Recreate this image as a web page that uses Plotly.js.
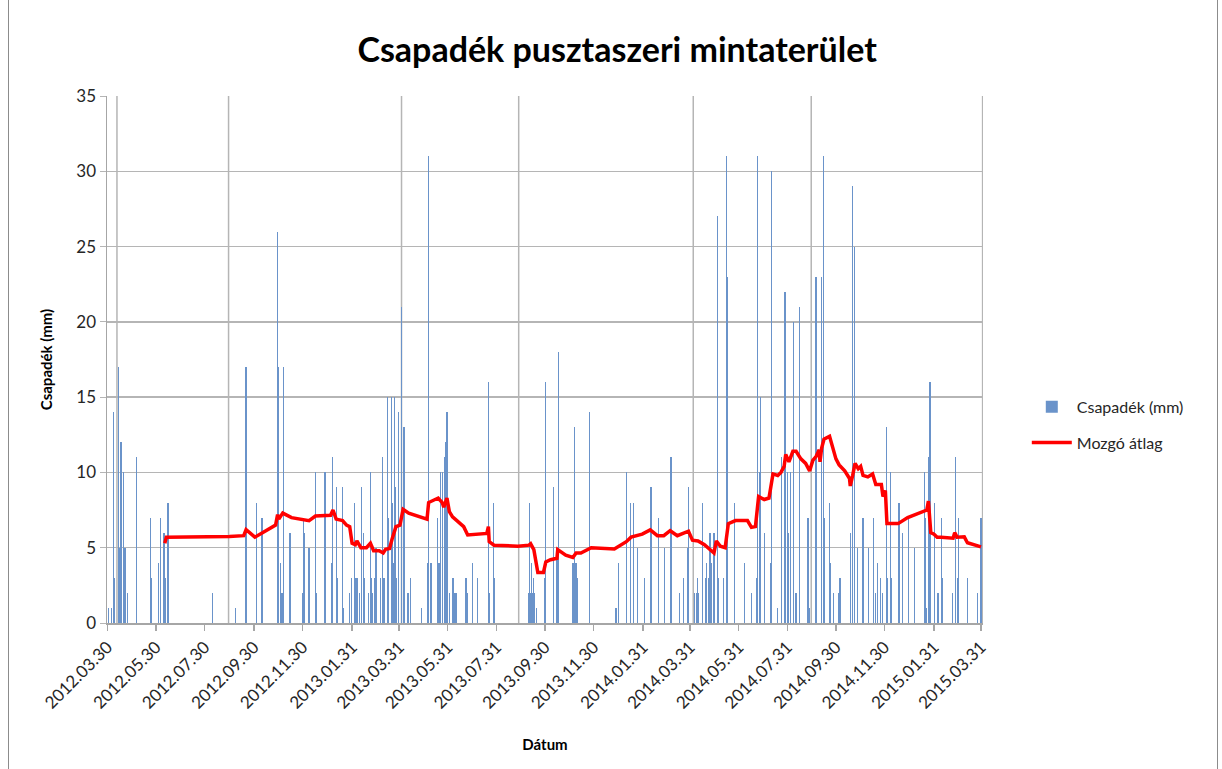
<!DOCTYPE html>
<html><head><meta charset="utf-8">
<script src="https://cdn.plot.ly/plotly-3.0.1.min.js"></script>
<style>
html,body{margin:0;padding:0;background:#fff;}
#chart{width:1222px;height:769px;position:absolute;left:0;top:0;}
#frame{position:absolute;left:8px;top:-2px;width:1210px;height:780px;border:1px solid #8c8c8c;box-sizing:border-box;pointer-events:none;}
</style>
</head><body>
<div id="chart"></div><div id="frame"></div>
<script>
// Day offsets counted from the start date (2012-03-30)
const startDate = '2012-03-30';
const rainDay = [1,5,8,9,14,15,17,18,20,21,22,25,36,54,55,64,67,71,73,76,132,161,174,175,187,194,213,214,217,219,
221,229,245,246,247,253,261,262,273,281,282,287,288,295,296,
304,306,310,312,314,316,319,321,323,328,330,331,333,335,337,343,345,347,351,353,356,357,359,360,361,363,365,369,372,377,380,
394,402,403,405,407,414,416,418,420,423,424,426,427,429,433,434,436,438,450,452,458,464,478,479,484,485,486,
529,530,531,532,533,534,535,536,538,549,550,560,564,566,583,584,585,586,588,590,605,638,641,651,656,660,665,674,682,691,699,707,718,723,728,729,
737,739,740,742,747,750,752,754,756,758,761,765,767,773,777,778,787,799,808,815,816,818,819,824,832,833,841,846,850,851,853,854,857,861,864,868,
879,881,889,890,896,898,899,900,906,907,911,917,919,932,935,937,941,948,955,961,964,966,970,972,977,978,982,984,993,997,1005,1013,1025,1026,1028,1030,1032,1033,1038,1042,1046,1048,1060,1064,1066,1068,1079,1092,1096];
const rainMm = [1,1,14,3,17,5,12,2,10,1,5,2,11,7,3,4,7,6,3,8,2,1,17,12,8,7,26,17,4,2,
17,6,2,7,6,5,10,2,10,4,11,9,3,9,1,
2,3,8,3,3,2,9,6,3,2,10,3,2,3,5,3,11,3,15,7,15,8,4,15,9,3,14,21,13,2,3,
1,4,31,4,4,7,4,10,10,11,12,14,1,2,3,3,2,2,3,2,4,3,16,2,8,2,3,
2,8,2,4,2,2,3,2,1,3,16,9,5,18,1,4,2,13,4,3,14,1,4,10,8,8,5,3,9,7,5,11,2,3,5,9,
2,2,3,2,8,3,4,3,6,4,6,27,3,3,31,23,8,4,2,3,31,10,15,6,4,30,1,11,22,16,10,6,10,20,2,21,
7,1,23,2,23,31,7,4,8,4,2,2,3,6,29,25,5,7,5,7,2,4,3,2,13,3,10,3,8,6,7,5,10,7,1,11,16,1,8,2,7,3,2,11,3,7,3,2,7];

const avgDay = [72,74,153,171,174,185,211,213.5,215,220,231,245,253,261,280,283,287,295,300,304,307,311,313,318,325,330,334,341,346,349,354,357,362,367,371,378,387,401,403,408,415,420,422,426,429,433,439,447,452,464,476,478,479,485,515,529,531,535,540,547,550,556,564,565,575,584,588,594,607,636,645,651,657,663,671,681,690,698,706,715,725,729,734,741,749,753,757,761,764,769,775,779,788,803,808,813,817,824,830,835,841,845,849,851,855,858,860,864,870,876,881,885,889,893,894,896,899,906,910,914,918,925,931,932,935,938,942,945,948,954,960,964,971,973,976,978,992,1004,1028,1030,1033,1037,1041,1046,1061,1063,1066,1075,1079,1088,1096];
const avgMm = [5.3,5.7,5.75,5.8,6.2,5.7,6.5,7.2,6.9,7.3,7.0,6.85,6.8,7.1,7.15,7.5,6.9,6.8,6.5,6.4,5.3,5.2,5.45,5.0,5.0,5.3,4.8,4.8,4.65,4.9,4.95,5.55,6.4,6.5,7.55,7.3,7.15,6.9,8.0,8.1,8.3,8.0,7.7,8.3,7.4,7.05,6.8,6.4,5.85,5.9,5.95,6.4,5.4,5.17,5.1,5.17,5.26,4.87,3.35,3.35,4.05,4.2,4.3,4.87,4.5,4.35,4.65,4.65,5.0,4.92,5.2,5.4,5.7,5.8,5.9,6.18,5.8,5.8,6.13,5.8,6.0,6.1,5.5,5.45,5.2,5.0,4.87,4.65,5.45,5.1,5.0,6.6,6.8,6.8,6.35,6.4,8.4,8.2,8.3,9.9,9.8,10.0,10.4,11.2,10.7,11.2,11.4,11.4,10.9,10.6,10.1,10.8,11.05,11.5,10.7,11.6,12.2,12.4,11.7,10.9,10.5,10.1,9.6,9.1,9.8,10.6,10.25,10.4,9.8,9.7,9.9,9.2,9.2,8.4,8.8,6.6,6.6,7.0,7.5,8.1,6.0,5.9,5.7,5.7,5.63,6.0,5.7,5.72,5.33,5.2,5.06];

const tickDates = ['2012-03-30','2012-05-30','2012-07-30','2012-09-30','2012-11-30','2013-01-31','2013-03-31','2013-05-31','2013-07-31','2013-09-30','2013-11-30','2014-01-31','2014-03-31','2014-05-31','2014-07-31','2014-09-30','2014-11-30','2015-01-31','2015-03-31'];
const tickLabels = ['2012.03.30','2012.05.30','2012.07.30','2012.09.30','2012.11.30','2013.01.31','2013.03.31','2013.05.31','2013.07.31','2013.09.30','2013.11.30','2014.01.31','2014.03.31','2014.05.31','2014.07.31','2014.09.30','2014.11.30','2015.01.31','2015.03.31'];
const vGridDates = ['2012-04-11','2012-08-29','2013-04-03','2013-08-28','2014-04-04','2014-08-30','2015-04-02'];

const DAY = 86400000;
const t0 = Date.parse(startDate + 'T00:00:00Z');
function toDate(d){ return new Date(t0 + d*DAY).toISOString().slice(0,19).replace('T',' '); }

const FONT = 'Lato, "Open Sans", sans-serif';
const GRID = '#b5b5b5';

const traces = [
  {type:'bar', name:'Csapadék (mm)', x: rainDay.map(toDate), y: rainMm,
   width: rainDay.map(()=>DAY*1.5), marker:{color:'#6a93ca', line:{width:0}}, legendgroup:'a'},
  {type:'scatter', mode:'lines', name:'Mozgó átlag', x: avgDay.map(toDate), y: avgMm,
   line:{color:'#FF0000', width:3.5}, legendgroup:'b'}
];

const shapes = vGridDates.map(d=>({type:'line', xref:'x', yref:'paper', x0:d, x1:d, y0:0, y1:1,
  line:{color:GRID, width:1.5}, layer:'below'}));

const layout = {
  width:1222, height:769,
  margin:{l:107, r:239, t:96, b:146},
  paper_bgcolor:'#fff', plot_bgcolor:'#fff',
  font:{family:FONT, color:'#262626'},
  title:{text:'<b>Csapadék pusztaszeri mintaterület</b>', font:{size:34, color:'#000', family:FONT},
    xref:'container', x:0.505, xanchor:'center', yref:'container', y:0.935, yanchor:'middle'},
  bargap:0,
  showlegend:true,
  legend:{x:1.05, xanchor:'left', y:0.376, yanchor:'middle', font:{size:16, color:'#262626'},
    traceorder:'grouped', tracegroupgap:12, itemwidth:40, bgcolor:'rgba(0,0,0,0)'},
  xaxis:{type:'date', range:['2012-03-29 12:00','2015-04-02 12:00'],
    tickmode:'array', tickvals:tickDates, ticktext:tickLabels, tickangle:-45,
    tickfont:{size:17, color:'#262626'}, ticks:'outside', ticklen:6, tickcolor:'#a6a6a6', tickwidth:1.3,
    showline:true, linecolor:'#a6a6a6', linewidth:1.5, showgrid:false, zeroline:false,
    title:{text:'<b>Dátum</b>', font:{size:15, color:'#000'}, standoff:28}},
  yaxis:{range:[0,35], dtick:5, tick0:0, tickfont:{size:17, color:'#262626'},
    ticks:'outside', ticklen:6, tickcolor:GRID, showline:true, linecolor:'#a6a6a6', linewidth:1.5,
    gridcolor:GRID, gridwidth:1.4, zeroline:false,
    title:{text:'<b>Csapadék (mm)</b>', font:{size:15, color:'#000'}, standoff:20}},
  shapes: shapes
};

Plotly.newPlot('chart', traces, layout, {displayModeBar:false, staticPlot:true});
</script>
</body></html>
